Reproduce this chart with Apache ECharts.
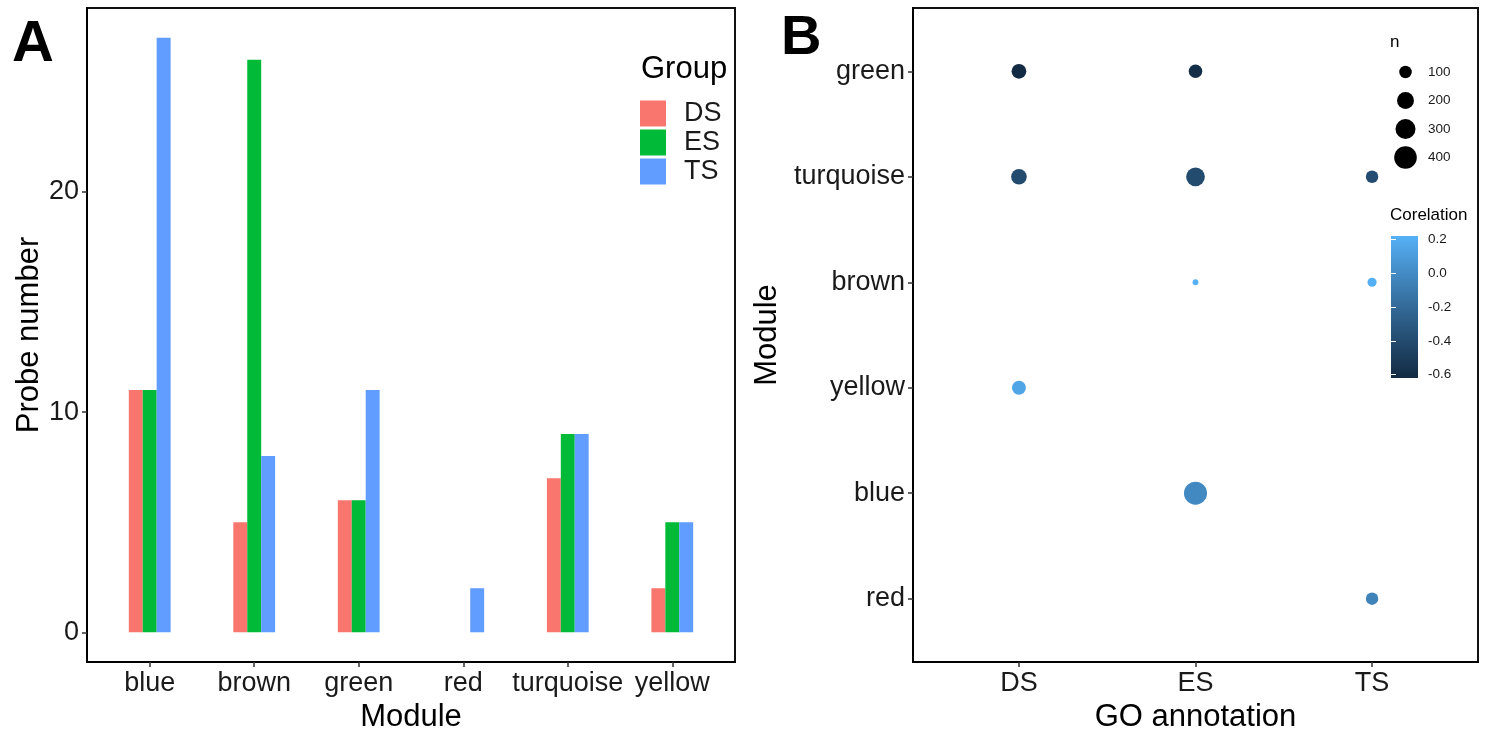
<!DOCTYPE html>
<html><head><meta charset="utf-8">
<script src="https://cdn.jsdelivr.net/npm/echarts@6/dist/echarts.min.js"></script>
<style>html,body{margin:0;padding:0;background:#fff}#c{width:1492px;height:732px}</style>
</head><body><div id="c"></div>
<script>
// ---------- Panel A data ----------
const modules = ['blue', 'brown', 'green', 'red', 'turquoise', 'yellow'];
const groups = ['DS', 'ES', 'TS'];
const dsValues = [11, 5, 6, 0, 7, 2];
const esValues = [11, 26, 6, 0, 9, 5];
const tsValues = [27, 8, 11, 2, 9, 5];
const probeTicks = [0, 10, 20];

// ---------- Panel B data ----------
const goModules = ['red', 'blue', 'yellow', 'brown', 'turquoise', 'green']; // bottom -> top
const goAnnotations = ['DS', 'ES', 'TS'];
const dotAnnotation = ['DS', 'ES', 'DS', 'ES', 'TS', 'ES', 'TS', 'DS', 'ES', 'TS'];
const dotModule = ['green', 'green', 'turquoise', 'turquoise', 'turquoise', 'brown', 'brown', 'yellow', 'blue', 'red'];
const dotN = [145, 120, 165, 255, 100, 44, 58, 127, 417, 100];
const dotCorr = [-0.62, -0.60, -0.40, -0.40, -0.39, 0.22, 0.21, 0.15, -0.01, -0.05];
const sizeBreaks = [100, 200, 300, 400];
const corrBreaks = [-0.6, -0.4, -0.2, 0, 0.2];

const FONT = "'Liberation Sans', Arial, Helvetica, sans-serif";
const groupColors = ['#F8766D', '#00BA38', '#619CFF'];

// ---- colour scale (ggplot-like gradient in Lab space) ----
function hexToRgb(h){ h=h.replace('#',''); return [0,2,4].map(i=>parseInt(h.substr(i,2),16)); }
function s2l(c){ c/=255; return c<=0.04045? c/12.92 : Math.pow((c+0.055)/1.055,2.4); }
function l2s(c){ const v = c<=0.0031308? 12.92*c : 1.055*Math.pow(c,1/2.4)-0.055; return Math.round(Math.max(0,Math.min(1,v))*255); }
const Xn=0.95047, Yn=1, Zn=1.08883;
function fLab(t){ return t>0.008856? Math.cbrt(t) : 7.787*t+16/116; }
function fInv(t){ return t>0.206893? t*t*t : (t-16/116)/7.787; }
function rgbToLab(rgb){ const [r,g,b]=rgb.map(s2l);
  const X=(0.4124*r+0.3576*g+0.1805*b)/Xn, Y=(0.2126*r+0.7152*g+0.0722*b)/Yn, Z=(0.0193*r+0.1192*g+0.9505*b)/Zn;
  const fx=fLab(X), fy=fLab(Y), fz=fLab(Z); return [116*fy-16, 500*(fx-fy), 200*(fy-fz)]; }
function labToHex(lab){ const fy=(lab[0]+16)/116, fx=fy+lab[1]/500, fz=fy-lab[2]/200;
  const X=fInv(fx)*Xn, Y=fInv(fy)*Yn, Z=fInv(fz)*Zn;
  const r=3.2406*X-1.5372*Y-0.4986*Z, g=-0.9689*X+1.8758*Y+0.0415*Z, b=0.0557*X-0.2040*Y+1.0570*Z;
  return '#'+[r,g,b].map(v=>l2s(v).toString(16).padStart(2,'0')).join(''); }
const LOW = rgbToLab(hexToRgb('#132B43')), HIGH = rgbToLab(hexToRgb('#56B1F7'));
const cMin = Math.min(...dotCorr), cMax = Math.max(...dotCorr);
function colorOf(v){ const t=Math.max(0,Math.min(1,(v-cMin)/(cMax-cMin))); return labToHex([0,1,2].map(i=>LOW[i]+(HIGH[i]-LOW[i])*t)); }

// ---- size scale (area-like) ----
const nMin = Math.min(...dotN), nMax = Math.max(...dotN);
const D_MIN = 5.8, D_MAX = 23;
function sizeOf(n){ const t=Math.max(0,(n-nMin)/(nMax-nMin)); return D_MIN+(D_MAX-D_MIN)*Math.sqrt(t); }

const chart = echarts.init(document.getElementById('c'), null, {renderer:'canvas'});

const tickLabel = {fontSize:27, color:'#1a1a1a', fontFamily:FONT};
const axisName = {fontSize:31, color:'#000', fontFamily:FONT};
const tickStyle = {show:true, length:5, lineStyle:{color:'#333', width:1.5}};
const axisLineStyle = {show:true, onZero:false, lineStyle:{color:'#000', width:2}};

const option = {
  backgroundColor:'#fff',
  animation:false,
  title:[
    {text:'A', left:12, top:16, padding:0, textStyle:{fontSize:58, fontWeight:'bold', color:'#000', fontFamily:FONT}},
    {text:'B', left:781, top:11, padding:0, textStyle:{fontSize:56, fontWeight:'bold', color:'#000', fontFamily:FONT}},
    {text:'Group', left:641, top:54, padding:0, textStyle:{fontSize:31, fontWeight:'normal', color:'#000', fontFamily:FONT}},
    {text:'n', left:1390, top:34, padding:0, textStyle:{fontSize:17, fontWeight:'normal', color:'#000', fontFamily:FONT}},
    {text:'Corelation', left:1390, top:207, padding:0, textStyle:{fontSize:17, fontWeight:'normal', color:'#000', fontFamily:FONT}}
  ],
  legend:[{
    data:groups, orient:'vertical', left:640, top:100, itemWidth:26, itemHeight:26, itemGap:2,
    icon:'rect', selectedMode:false, padding:0,
    textStyle:{fontSize:27, color:'#1a1a1a', fontFamily:FONT, padding:[0,0,0,13]}
  }],
  grid:[
    {left:87, right:757, top:8, bottom:70, show:true, borderColor:'#111', borderWidth:2, backgroundColor:'#fff', outerBoundsMode:'none', containLabel:false},
    {left:913, right:14, top:8, bottom:70, show:true, borderColor:'#111', borderWidth:2, backgroundColor:'#fff', outerBoundsMode:'none', containLabel:false},
    {left:1391, width:29, top:57.75, height:114, outerBoundsMode:'none', containLabel:false},
    {left:1391, width:27, top:236, height:142, outerBoundsMode:'none', containLabel:false}
  ],
  xAxis:[
    {gridIndex:0, type:'value', min:0.4, max:6.6, splitLine:{show:false}, axisLine:axisLineStyle,
     axisTick:Object.assign({customValues:[1,2,3,4,5,6]}, tickStyle),
     axisLabel:Object.assign({customValues:[1,2,3,4,5,6], margin:8, formatter:v=>modules[Math.round(v)-1]}, tickLabel),
     name:'Module', nameLocation:'middle', nameGap:36, nameTextStyle:axisName},
    {gridIndex:1, type:'value', min:0.4, max:3.6, splitLine:{show:false}, axisLine:axisLineStyle,
     axisTick:Object.assign({customValues:[1,2,3]}, tickStyle),
     axisLabel:Object.assign({customValues:[1,2,3], margin:8, formatter:v=>goAnnotations[Math.round(v)-1]}, tickLabel),
     name:'GO annotation', nameLocation:'middle', nameGap:36, nameTextStyle:axisName},
    {gridIndex:2, type:'category', data:['n'], show:false},
    {gridIndex:3, type:'value', min:0, max:1, show:false}
  ],
  yAxis:[
    {gridIndex:0, type:'value', min:-1.35, max:28.35, splitLine:{show:false}, axisLine:axisLineStyle,
     axisTick:Object.assign({customValues:probeTicks}, tickStyle),
     axisLabel:Object.assign({customValues:probeTicks, margin:8}, tickLabel),
     name:'Probe number', nameLocation:'middle', nameGap:41, nameTextStyle:axisName},
    {gridIndex:1, type:'value', min:0.4, max:6.6, splitLine:{show:false}, axisLine:axisLineStyle,
     axisTick:Object.assign({customValues:[1,2,3,4,5,6]}, tickStyle),
     axisLabel:Object.assign({customValues:[1,2,3,4,5,6], margin:8, formatter:v=>goModules[Math.round(v)-1]}, tickLabel),
     name:'Module', nameLocation:'middle', nameGap:130, nameTextStyle:axisName},
    {gridIndex:2, type:'category', data:sizeBreaks.map(String), inverse:true, position:'right',
     axisLine:{show:false}, axisTick:{show:false}, splitLine:{show:false},
     axisLabel:{fontSize:13.5, color:'#1a1a1a', fontFamily:FONT, margin:8}},
    {gridIndex:3, type:'value', min:cMin, max:cMax, position:'right', z:5, splitLine:{show:false},
     axisLine:{show:false},
     axisTick:{show:true, inside:true, length:5, customValues:corrBreaks, lineStyle:{color:'#fff', width:1}},
     axisLabel:{customValues:corrBreaks, fontSize:13.5, color:'#1a1a1a', fontFamily:FONT, margin:10,
       formatter:v=>v.toFixed(1)}},
    {gridIndex:3, type:'value', min:cMin, max:cMax, position:'left', z:5, splitLine:{show:false},
     axisLine:{show:false}, axisLabel:{show:false},
     axisTick:{show:true, inside:true, length:5, customValues:corrBreaks, lineStyle:{color:'#fff', width:1}}}
  ],
  series:[
    {type:'bar', name:'DS', xAxisIndex:0, yAxisIndex:0, barWidth:'13.33%', barGap:'0%',
     itemStyle:{color:groupColors[0]}, data:dsValues.map((v,i)=>[i+1,v])},
    {type:'bar', name:'ES', xAxisIndex:0, yAxisIndex:0, barWidth:'13.33%', barGap:'0%',
     itemStyle:{color:groupColors[1]}, data:esValues.map((v,i)=>[i+1,v])},
    {type:'bar', name:'TS', xAxisIndex:0, yAxisIndex:0, barWidth:'13.33%', barGap:'0%',
     itemStyle:{color:groupColors[2]}, data:tsValues.map((v,i)=>[i+1,v])},
    {type:'scatter', xAxisIndex:1, yAxisIndex:1,
     data:dotN.map((n,i)=>[goAnnotations.indexOf(dotAnnotation[i])+1, goModules.indexOf(dotModule[i])+1, n, dotCorr[i]]),
     symbolSize:v=>sizeOf(v[2]),
     itemStyle:{opacity:1, color:p=>colorOf(p.value[3])}},
    {type:'scatter', xAxisIndex:2, yAxisIndex:2,
     data:sizeBreaks.map(b=>['n', String(b), b]),
     symbolSize:v=>sizeOf(v[2]), itemStyle:{color:'#000', opacity:1}},
    {type:'custom', xAxisIndex:3, yAxisIndex:3, z:2,
     data:[[cMin, cMax]],
     renderItem:(params, api)=>{
       const lo=api.value(0), hi=api.value(1);
       const p0=api.coord([0, lo]), p1=api.coord([1, hi]);
       const stops=[]; for(let k=0;k<=10;k++){ stops.push({offset:k/10, color:colorOf(lo+(hi-lo)*k/10)}); }
       return {type:'rect', shape:{x:p0[0], y:p1[1], width:p1[0]-p0[0], height:p0[1]-p1[1]},
               style:{fill:new echarts.graphic.LinearGradient(0,1,0,0,stops)}};
     }}
  ]
};
chart.setOption(option);
</script></body></html>
